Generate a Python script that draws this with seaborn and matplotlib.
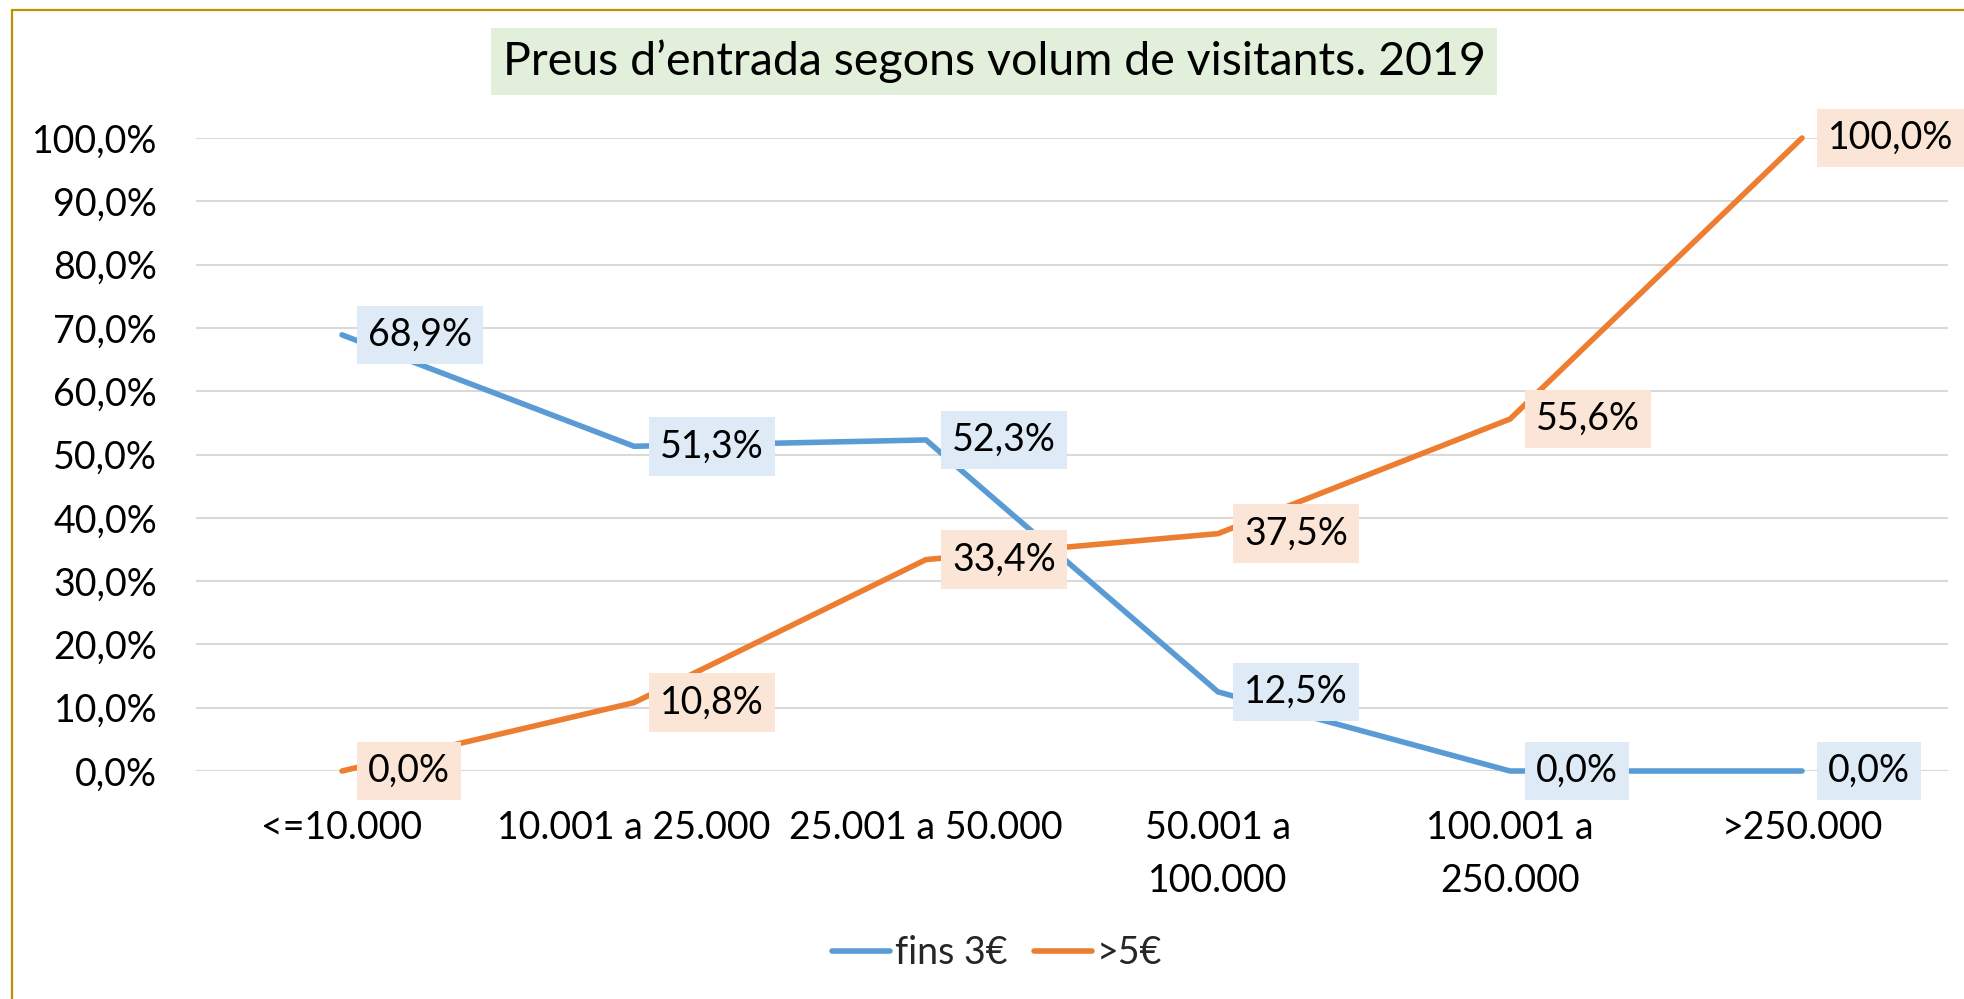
import matplotlib
matplotlib.use("Agg")
import matplotlib.pyplot as plt
import seaborn as sns
import pandas as pd
from matplotlib.patches import Rectangle

# ---- data ----
categories = ["<=10.000", "10.001 a 25.000", "25.001 a 50.000",
              "50.001 a 100.000", "100.001 a 250.000", ">250.000"]
tick_labels = ["<=10.000", "10.001 a 25.000", "25.001 a 50.000",
               "50.001 a\n100.000", "100.001 a\n250.000", ">250.000"]
series_names = ["fins 3€", ">5€"]
fins3 = [68.9, 51.3, 52.3, 12.5, 0.0, 0.0]
gt5 = [0.0, 10.8, 33.4, 37.5, 55.6, 100.0]
y_ticks = [0, 10, 20, 30, 40, 50, 60, 70, 80, 90, 100]
title = "Preus d’entrada segons volum de visitants. 2019"

BLUE = "#5B9BD5"
ORANGE = "#ED7D31"
BLUE_BG = "#DEEBF7"
ORANGE_BG = "#FBE5D6"

sns.set_theme(style="white")
plt.rcParams["font.family"] = ["Lato", "DejaVu Sans"]

def fmt(v):
    return f"{v:.1f}".replace(".", ",") + "%"

df = pd.DataFrame({
    "pos": list(range(len(categories))) * 2,
    "value": fins3 + gt5,
    "serie": [series_names[0]] * len(fins3) + [series_names[1]] * len(gt5),
})

W, H = 1965, 999
fig = plt.figure(figsize=(W / 100, H / 100), dpi=100)
fig.patch.set_facecolor("white")
ax = fig.add_axes([196 / W, 1 - 771 / H, (1948 - 196) / W, (771 - 138) / H])

sns.lineplot(data=df, x="pos", y="value", hue="serie", palette=[BLUE, ORANGE],
             linewidth=4, sort=False, ax=ax, legend=True, zorder=3)
for ln in ax.lines:
    ln.set_clip_on(False)
    ln.set_linewidth(4)
    ln.set_solid_capstyle("round")
    ln.set_solid_joinstyle("round")

ax.set_xlim(-0.5, len(categories) - 0.5)
ax.set_ylim(0, 100)
ax.set_yticks(y_ticks)
ax.set_yticklabels([fmt(v) for v in y_ticks])
ax.set_xticks(range(len(categories)))
ax.set_xticklabels(tick_labels)
for t in ax.get_xticklabels():
    t.set_linespacing(1.6)
ax.tick_params(axis="both", length=0, labelsize=27, colors="black")
ax.tick_params(axis="x", pad=28)
ax.tick_params(axis="y", pad=28)
ax.grid(axis="y", color="#D9D9D9", linewidth=1.5)
ax.set_axisbelow(True)
for s in ax.spines.values():
    s.set_visible(False)
ax.set_xlabel("")
ax.set_ylabel("")

# data labels
for vals, bg in [(fins3, BLUE_BG), (gt5, ORANGE_BG)]:
    for i, v in enumerate(vals):
        ax.annotate(fmt(v), (i, v), xytext=(26, 0), textcoords="offset pixels",
                    ha="left", va="center", fontsize=27, color="black",
                    annotation_clip=False, zorder=5,
                    bbox=dict(boxstyle="square,pad=0.3", fc=bg, ec="none"))

# legend
h, l = ax.get_legend_handles_labels()
leg = ax.legend(h, l, loc="center", bbox_to_anchor=(997 / W, 1 - 953 / H),
                bbox_transform=fig.transFigure, ncol=2, frameon=False,
                fontsize=27, handlelength=1.55, handletextpad=0.12,
                columnspacing=0.7)
for lh in leg.get_lines():
    lh.set_linewidth(4)
    lh.set_solid_capstyle("round")

# title
fig.text(994 / W, 1 - 61.5 / H, title, ha="center", va="center", fontsize=33.5,
         color="black",
         bbox=dict(boxstyle="square,pad=0.25", fc="#E2EFDA", ec="none"))

# chart border (top and left visible, continues past the image)
fig.patches.append(Rectangle((12 / W, -0.2), 1.2, 1.2 - 10 / H,
                             transform=fig.transFigure, fill=False,
                             ec="#BF9000", lw=1.6, clip_on=False))

fig.savefig("out.png", dpi=100)
